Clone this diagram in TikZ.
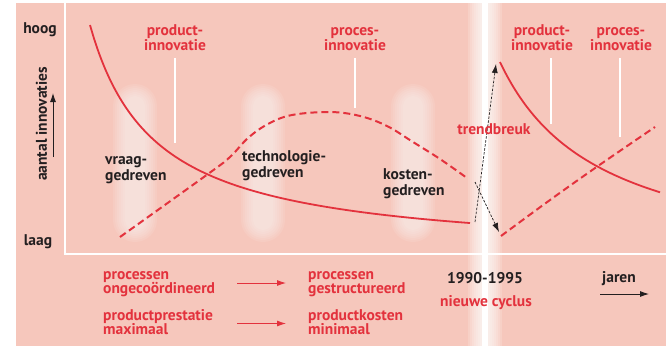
\documentclass[tikz,border=0pt]{standalone}
\usepackage{fontspec}
\setmainfont{PT Sans}
\usetikzlibrary{arrows.meta}
\definecolor{bgpink}{HTML}{F6C7BC}
\definecolor{cred}{HTML}{E3323D}
\definecolor{ctext}{HTML}{231F20}
\newcommand\twoc[2]{\vtop{\halign{\hfil##\hfil\cr#1\cr#2\cr}}}
\newcommand\twol[2]{\vtop{\halign{##\hfil\cr#1\cr#2\cr}}}
\begin{document}
\begin{tikzpicture}[x=1pt,y=-1pt,
  lbl/.style={font=\bfseries\fontsize{15.5}{16}\selectfont, inner sep=0pt, text=ctext, anchor=base},
  rlbl/.style={lbl, font=\bfseries\fontsize{15.5}{14.5}\selectfont, text=cred},
  curve/.style={cred, line width=1.8pt},
  dcurve/.style={cred, line width=2pt, dash pattern=on 7pt off 4pt},
  tbarrow/.style={ctext, line width=0.7pt, dash pattern=on 2.5pt off 1.5pt, -{Latex[length=9pt,width=6pt]}},
  redarrow/.style={cred, line width=0.9pt, -{Latex[length=9pt,width=6pt]}},
  blackarrow/.style={ctext, line width=0.9pt, -{Latex[length=9pt,width=6pt]}},
  marker/.style={white, line width=1.5pt}]
\useasboundingbox (0,0) rectangle (666,346);
\fill[bgpink] (16,3) rectangle (666,346);
% soft blobs
\foreach \cx in {135,263,413} {
  \foreach \k in {0,...,6} {
    \pgfmathsetmacro{\hw}{10+2*\k}
    \pgfmathsetmacro{\tp}{96-2*\k}
    \pgfmathsetmacro{\bt}{230+2*\k}
    \fill[white, opacity=0.09, rounded corners=\hw pt] (\cx-\hw,\tp) rectangle (\cx+\hw,\bt);
  }
}
% white band
\foreach \k in {0,...,7} {
  \pgfmathsetmacro{\hw}{3+2*\k}
  \fill[white, opacity=0.16] (484.5-\hw,3) rectangle (484.5+\hw,346);
}
\fill[white] (481.5,3) rectangle (487.5,346);
% axes
\draw[white, line width=2.5pt] (65,3) -- (65,254) -- (666,254);
% markers
\draw[marker] (175,58) -- (175,143);
\draw[marker] (355,58) -- (355,108);
\draw[marker] (551,58) -- (551,124);
\draw[marker] (620,58) -- (620,137);
% curves
\draw[curve] plot[domain=90:470, samples=90, smooth] (\x, {256.9 - 150.71/((\x-25)/100)});
\draw[dcurve] plot[smooth, tension=0.6] coordinates {(120,237) (208,174) (230,157) (248,138) (268,124) (292,115) (330,112) (360,116) (387,126) (413,142) (440,159) (467,178)};
\draw[curve] plot[domain=500:660, samples=60, smooth] (\x, {273.7 - 211.68/((\x-400)/100)});
\draw[dcurve] plot[smooth, tension=0.6] coordinates {(501,236) (550,200) (598,166) (655,127)};
% trend break arrows
\coordinate (tb1s) at (475,222);
\coordinate (tb1e) at (496,64);
\coordinate (tb2s) at (475,182);
\coordinate (tb2e) at (499,232);
\draw[tbarrow] (tb1s) -- (tb1e);
\draw[tbarrow] (tb2s) -- (tb2e);
% left column
\node[lbl] (hoog) at (40,33.5) {hoog};
\node[lbl] (laag) at (38,245) {laag};
\node[lbl, rotate=90, anchor=center] (aantal) at (41.5,124) {aantal innovaties};
\coordinate (ya) at (53,157);
\coordinate (yb) at (53,93);
\draw[blackarrow] (ya) -- (yb);
% top labels
\node[rlbl] (pi1) at (175,35.5) {\twoc{product-}{innovatie}};
\node[rlbl] (ci1) at (355,35.5) {\twoc{proces-}{innovatie}};
\node[rlbl] (pi2) at (542,35.5) {\twoc{product-}{innovatie}};
\node[rlbl] (ci2) at (621,35.5) {\twoc{proces-}{innovatie}};
\node[rlbl] (trend) at (494,134.5) {trendbreuk};
% phase labels
\node[lbl, anchor=base west] (vraag) at (105,164.5) {\twol{vraag-}{gedreven}};
\node[lbl, anchor=base west] (techn) at (242,161.5) {\twol{technologie-}{gedreven}};
\node[lbl, anchor=base west] (kost) at (383,179.5) {\twol{kosten-}{gedreven}};
% bottom
\node[rlbl, anchor=base west] (p1) at (103,279) {\twol{processen}{ongecoördineerd}};
\node[rlbl, anchor=base west] (p2) at (308,279) {\twol{processen}{gestructureerd}};
\node[rlbl, anchor=base west] (q1) at (103,320) {\twol{productprestatie}{maximaal}};
\node[rlbl, anchor=base west] (q2) at (308,320) {\twol{productkosten}{minimaal}};
\coordinate (a1s) at (237,283);
\coordinate (a1e) at (286,283);
\coordinate (a2s) at (237,323.5);
\coordinate (a2e) at (286,323.5);
\draw[redarrow] (a1s) -- (a1e);
\draw[redarrow] (a2s) -- (a2e);
\node[lbl] (yrs) at (485,283.5) {1990-1995};
\node[rlbl] (cyc) at (486,306) {nieuwe cyclus};
\node[lbl] (jaren) at (619,282) {jaren};
\coordinate (js) at (600,294);
\coordinate (je) at (649,294);
\draw[blackarrow] (js) -- (je);
\end{tikzpicture}
\end{document}
